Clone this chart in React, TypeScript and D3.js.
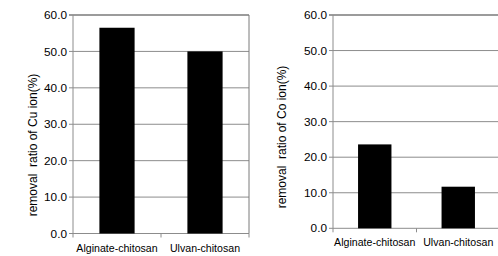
import * as d3 from "d3";

const categories = ["Alginate-chitosan", "Ulvan-chitosan"];
const cuValues = [56.5, 50.0];
const coValues = [23.6, 11.7];
const yTicks = [0, 10, 20, 30, 40, 50, 60];

interface Panel {
  values: number[];
  title: string;
  x0: number;
  x1: number;
  top: number;
  bottom: number;
  labelY: number;
  titleX: number;
  titleY: number;
  rightBorder: boolean;
}

const FONT = "Liberation Sans, Arial, sans-serif";
const GRID = "#8c8c8c";

function BarPanel({ p }: { p: Panel }) {
  const y = d3.scaleLinear().domain([0, 60]).range([p.bottom, p.top]);
  const x = d3
    .scaleBand<string>()
    .domain(categories)
    .range([p.x0, p.x1])
    .paddingInner(0.6)
    .paddingOuter(0.3);
  const cat = d3.scaleBand<string>().domain(categories).range([p.x0, p.x1]);
  const bounds = [p.x0, ...categories.map((c) => (cat(c) ?? 0) + cat.bandwidth())];

  return (
    <g fontFamily={FONT}>
      {yTicks.map((t) => (
        <g key={t}>
          <line
            x1={p.x0 - 4}
            x2={p.x1}
            y1={y(t)}
            y2={y(t)}
            stroke={t === 60 ? "#7a7a7a" : GRID}
            strokeWidth={t === 60 ? 1.5 : 1}
          />
          <text
            x={p.x0 - 6}
            y={y(t)}
            dy="0.35em"
            textAnchor="end"
            fontSize={11.8}
            fill="#000"
          >
            {t.toFixed(1)}
          </text>
        </g>
      ))}
      <line x1={p.x0} x2={p.x0} y1={p.top} y2={p.bottom} stroke={GRID} />
      {p.rightBorder && (
        <line x1={p.x1} x2={p.x1} y1={p.top} y2={p.bottom} stroke="#7a7a7a" />
      )}
      {bounds.map((b, i) => (
        <line key={i} x1={b} x2={b} y1={p.bottom} y2={p.bottom + 4} stroke={GRID} />
      ))}
      {categories.map((c, i) => (
        <rect
          key={c}
          x={x(c)}
          y={y(p.values[i])}
          width={x.bandwidth()}
          height={p.bottom - y(p.values[i])}
          fill="#000"
        />
      ))}
      {categories.map((c) => (
        <text
          key={c}
          x={(cat(c) ?? 0) + cat.bandwidth() / 2}
          y={p.labelY}
          textAnchor="middle"
          fontSize={10.6}
          fill="#000"
        >
          {c}
        </text>
      ))}
      <text
        transform={`translate(${p.titleX},${p.titleY}) rotate(-90)`}
        textAnchor="middle"
        dy="0.35em"
        fontSize={12}
        fill="#000"
        xmlSpace="preserve"
      >
        {p.title}
      </text>
    </g>
  );
}

const panels: Panel[] = [
  {
    values: cuValues,
    title: "removal  ratio of Cu ion(%)",
    x0: 73,
    x1: 249,
    top: 15,
    bottom: 233.5,
    labelY: 252,
    titleX: 33,
    titleY: 145,
    rightBorder: true,
  },
  {
    values: coValues,
    title: "removal  ratio of Co ion(%)",
    x0: 333,
    x1: 500,
    top: 15,
    bottom: 228.3,
    labelY: 246,
    titleX: 282,
    titleY: 137,
    rightBorder: false,
  },
];

export default function App() {
  return (
    <svg
      width={498}
      height={256}
      style={{ position: "absolute", left: 0, top: 0, background: "#fff" }}
    >
      {panels.map((p, i) => (
        <BarPanel key={i} p={p} />
      ))}
    </svg>
  );
}
